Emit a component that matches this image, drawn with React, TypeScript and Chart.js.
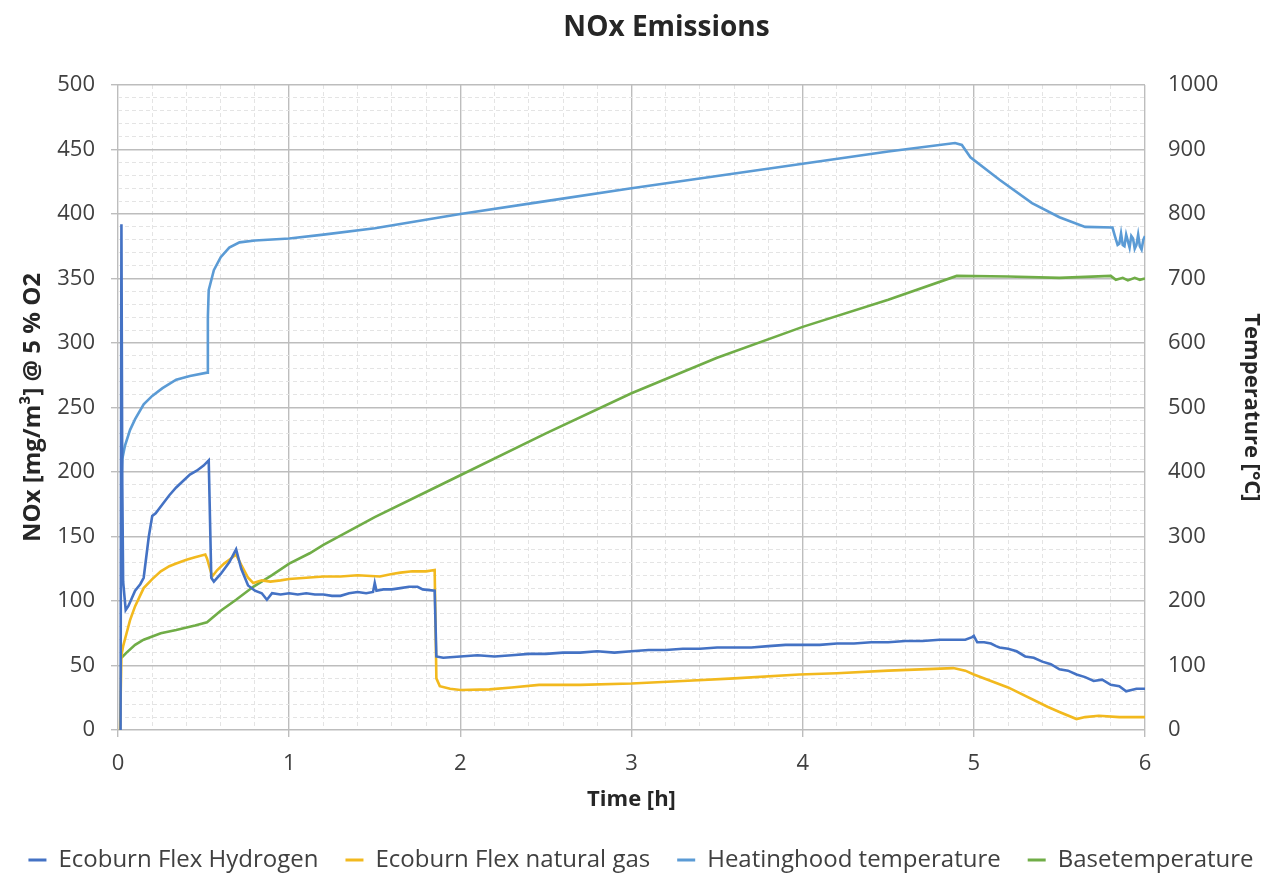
import React, { useEffect, useRef } from "react";
import { Chart, registerables } from "chart.js";

Chart.register(...registerables);

const chartTitle = "NOx Emissions";
const xAxisTitle = "Time [h]";
const yLeftTitle = "NOx [mg/m³] @ 5 % O2";
const yRightTitle = "Temperature [°C]";

const seriesNames = [
  "Ecoburn Flex Hydrogen",
  "Ecoburn Flex natural gas",
  "Heatinghood temperature",
  "Basetemperature",
];

// Ecoburn Flex Hydrogen (left axis, mg/m³)
const h2Time = [
  0.015, 0.02, 0.025, 0.03, 0.045, 0.06, 0.08, 0.1, 0.13, 0.15, 0.18, 0.2, 0.22, 0.26, 0.3, 0.34, 0.38, 0.42,
  0.46, 0.5, 0.53, 0.545, 0.56, 0.6, 0.65, 0.69, 0.72, 0.76, 0.8, 0.84, 0.87, 0.9, 0.95, 1.0, 1.05, 1.1, 1.15,
  1.2, 1.25, 1.3, 1.35, 1.4, 1.45, 1.49, 1.5, 1.51, 1.55, 1.6, 1.65, 1.7, 1.75, 1.78, 1.85, 1.86, 1.9, 2.0, 2.1,
  2.2, 2.3, 2.4, 2.5, 2.6, 2.7, 2.8, 2.9, 3.0, 3.1, 3.2, 3.3, 3.4, 3.5, 3.6, 3.7, 3.8, 3.9, 4.0, 4.1, 4.2, 4.3,
  4.4, 4.5, 4.6, 4.7, 4.8, 4.9, 4.95, 4.99, 5.0, 5.02, 5.06, 5.1, 5.13, 5.15, 5.2, 5.25, 5.3, 5.35, 5.4, 5.45,
  5.5, 5.55, 5.6, 5.65, 5.7, 5.75, 5.8, 5.85, 5.89, 5.95, 6.0,
];
const h2Values = [
  0, 392, 190, 115, 93, 96, 102, 108, 113, 118, 150, 166, 168, 175, 182, 188, 193, 198,
  201, 205, 209, 118, 115, 121, 130, 140, 125, 112, 108, 106, 101, 106, 105, 106, 105, 106, 105,
  105, 104, 104, 106, 107, 106, 107, 114, 108, 109, 109, 110, 111, 111, 109, 108, 57, 56, 57, 58,
  57, 58, 59, 59, 60, 60, 61, 60, 61, 62, 62, 63, 63, 64, 64, 64, 65, 66, 66, 66, 67, 67,
  68, 68, 69, 69, 70, 70, 70, 72, 73, 68, 68, 67, 65, 64, 63, 61, 57, 56, 53, 51,
  47, 46, 43, 41, 38, 39, 35, 34, 30, 32, 32,
];

// Ecoburn Flex natural gas (left axis, mg/m³)
const gasTime = [
  0.012, 0.02, 0.03, 0.05, 0.07, 0.1, 0.15, 0.2, 0.25, 0.3, 0.34, 0.4, 0.45, 0.51, 0.52, 0.55, 0.58, 0.62,
  0.66, 0.69, 0.72, 0.76, 0.79, 0.84, 0.89, 0.95, 1.0, 1.1, 1.2, 1.3, 1.4, 1.53, 1.6, 1.65, 1.72, 1.8, 1.85,
  1.86, 1.88, 1.94, 2.0, 2.17, 2.3, 2.46, 2.7, 3.0, 3.3, 3.6, 3.98, 4.2, 4.5, 4.88, 4.95, 5.0, 5.2, 5.43, 5.5,
  5.6, 5.65, 5.73, 5.85, 6.0,
];
const gasValues = [
  0, 58, 65, 75, 85, 96, 110, 117, 123, 127, 129, 132, 134, 136, 133, 119, 124, 129,
  133, 136, 128, 118, 114, 116, 115, 116, 117, 118, 119, 119, 120, 119, 121, 122, 123, 123, 124,
  40, 34, 32, 31, 31.5, 33, 35, 35, 36, 38, 40, 43, 44, 46, 48, 46, 43, 33, 18, 14,
  8.5, 10, 11, 10, 10,
];

// Heatinghood temperature (right axis, °C)
const hoodTime = [
  0.02, 0.025, 0.04, 0.07, 0.1, 0.15, 0.2, 0.26, 0.34, 0.42, 0.52, 0.525, 0.53, 0.56, 0.6, 0.65, 0.71, 0.8,
  1.0, 1.2, 1.5, 2.0, 2.5, 3.0, 3.5, 4.0, 4.5, 4.89, 4.93, 4.98, 5.15, 5.34, 5.5, 5.65, 5.81, 5.825, 5.84,
  5.85, 5.86, 5.87, 5.88, 5.89, 5.9, 5.91, 5.92, 5.93, 5.94, 5.95, 5.96, 5.97, 5.98, 5.99, 6.0,
];
const hoodValues = [
  390, 420, 440, 465, 482, 505, 518, 530, 543, 549, 554, 640, 682, 713, 733, 748, 756, 759,
  762, 768, 778, 800, 820, 840, 859, 878, 897, 910, 907, 888, 853, 817, 795, 780, 779, 765, 752,
  754, 770, 752, 750, 768, 758, 748, 766, 762, 746, 752, 768, 750, 745, 760, 766,
];

// Basetemperature (right axis, °C)
const baseTime = [
  0.02, 0.05, 0.1, 0.15, 0.25, 0.34, 0.45, 0.52, 0.6, 0.69, 0.79, 0.9, 1.0, 1.12, 1.2, 1.5, 1.8, 2.0, 2.5,
  3.0, 3.5, 4.0, 4.5, 4.9, 5.2, 5.5, 5.8, 5.83, 5.87, 5.9, 5.94, 5.97, 6.0,
];
const baseValues = [
  112, 120, 132, 140, 150, 155, 162, 167, 185, 202, 222, 240, 258, 274, 287, 330, 369, 395, 460,
  522, 577, 625, 667, 704, 703, 701, 704, 698, 701, 697, 701, 698, 700,
];

const seriesColors = ["#4472C4", "#F2B91E", "#5B9BD5", "#70AD47"];

const xMin = 0, xMax = 6, xStep = 0.2;
const yLeftMin = 0, yLeftMax = 500, yLeftStep = 10, yLeftLabelEvery = 50;
const yRightMin = 0, yRightMax = 1000, yRightStep = 20, yRightLabelEvery = 100;

const FONT = "'Open Sans'";

function pts(xs: number[], ys: number[]) {
  return xs.map((x, i) => ({ x, y: ys[i] }));
}

const isIntLike = (v: number) => Math.abs(v - Math.round(v)) < 1e-6;
const MAJOR = "#BDBDBD";
const MINOR = "#E4E4E4";

const titlePlugin = {
  id: "offsetTitle",
  afterDraw(chart: any) {
    const { ctx, chartArea } = chart;
    ctx.save();
    ctx.font = `bold 28px ${FONT}`;
    ctx.fillStyle = "#262626";
    ctx.textAlign = "center";
    ctx.textBaseline = "middle";
    ctx.fillText(chartTitle, (chartArea.left + chartArea.right) / 2 + 35, 28);
    ctx.restore();
  },
};

export default function App() {
  const ref = useRef<HTMLCanvasElement | null>(null);

  useEffect(() => {
    if (!ref.current) return;
    const chart = new Chart(ref.current, {
      type: "line",
      data: {
        datasets: [
          { label: seriesNames[0], data: pts(h2Time, h2Values), yAxisID: "y" },
          { label: seriesNames[1], data: pts(gasTime, gasValues), yAxisID: "y" },
          { label: seriesNames[2], data: pts(hoodTime, hoodValues), yAxisID: "y1" },
          { label: seriesNames[3], data: pts(baseTime, baseValues), yAxisID: "y1" },
        ].map((d, i) => ({
          ...d,
          borderColor: seriesColors[i],
          backgroundColor: seriesColors[i],
          borderWidth: 2.6,
          pointRadius: 0,
          tension: 0,
          fill: false,
        })),
      },
      plugins: [titlePlugin],
      options: {
        responsive: false,
        animation: false,
        events: [],
        layout: { padding: { left: 0, right: 0, top: 85, bottom: -5 } },
        plugins: {
          title: { display: false },
          legend: {
            display: true,
            position: "bottom",
            labels: {
              font: { family: FONT, size: 24 },
              color: "#404040",
              boxWidth: 18,
              boxHeight: 3,
              padding: 27,
              generateLabels: (c: any) => {
                const items = Chart.defaults.plugins.legend.labels.generateLabels(c);
                return items.map((it: any) => ({ ...it, lineWidth: 0, fillStyle: it.strokeStyle }));
              },
            },
          },
          tooltip: { enabled: false },
        },
        scales: {
          x: {
            type: "linear",
            min: xMin,
            max: xMax,
            afterFit: (s: any) => { s.height = 91; },
            ticks: {
              stepSize: xStep,
              autoSkip: false,
              maxRotation: 0,
              padding: 14,
              color: "#404040",
              font: { family: FONT, size: 22 },
              callback: (v: any) => (isIntLike(Number(v)) ? String(Math.round(Number(v))) : ""),
            },
            grid: {
              color: (c: any) => (isIntLike(c.tick.value) ? MAJOR : MINOR),
              lineWidth: (c: any) => (isIntLike(c.tick.value) ? 1.4 : 1),
              tickLength: 7,
              tickColor: (c: any) => (isIntLike(c.tick.value) ? MAJOR : "rgba(0,0,0,0)"),
            },
            border: {
              display: false,
              dash: (c: any) => (c.tick && isIntLike(c.tick.value) ? [] : [4, 3]),
            },
            title: {
              display: true,
              text: xAxisTitle,
              color: "#262626",
              font: { family: FONT, size: 22, weight: "bold" },
              padding: { top: 0, bottom: 7.8 },
            },
          },
          y: {
            type: "linear",
            position: "left",
            min: yLeftMin,
            max: yLeftMax,
            afterFit: (s: any) => { s.width = 118; },
            ticks: {
              stepSize: yLeftStep,
              autoSkip: false,
              padding: 16,
              color: "#404040",
              font: { family: FONT, size: 22 },
              callback: (v: any) => (Number(v) % yLeftLabelEvery === 0 ? String(v) : ""),
            },
            grid: {
              color: (c: any) => (c.tick.value % yLeftLabelEvery === 0 ? MAJOR : MINOR),
              lineWidth: (c: any) => (c.tick.value % yLeftLabelEvery === 0 ? 1.4 : 1),
              tickLength: 7,
              tickColor: (c: any) => (c.tick.value % yLeftLabelEvery === 0 ? MAJOR : "rgba(0,0,0,0)"),
            },
            border: {
              display: false,
              dash: (c: any) => (c.tick && c.tick.value % yLeftLabelEvery === 0 ? [] : [4, 3]),
            },
            title: {
              display: true,
              text: yLeftTitle,
              color: "#262626",
              font: { family: FONT, size: 24, weight: "bold" },
              padding: { top: 18.6, bottom: 0 },
            },
          },
          y1: {
            type: "linear",
            position: "right",
            min: yRightMin,
            max: yRightMax,
            afterFit: (s: any) => { s.width = 137; },
            ticks: {
              stepSize: yRightStep,
              autoSkip: false,
              padding: 15,
              color: "#404040",
              font: { family: FONT, size: 22 },
              callback: (v: any) => (Number(v) % yRightLabelEvery === 0 ? String(v) : ""),
            },
            grid: { display: false, drawOnChartArea: false },
            border: { display: false },
            title: {
              display: true,
              text: yRightTitle,
              color: "#262626",
              font: { family: FONT, size: 22, weight: "bold" },
              padding: { top: 17.8, bottom: 0 },
            },
          },
        },
      },
    } as any);
    return () => chart.destroy();
  }, []);

  return (
    <div style={{ position: "fixed", left: 0, top: 0, width: 1282, height: 877, background: "#fff" }}>
      <canvas ref={ref} width={1282} height={877} style={{ display: "block" }} />
    </div>
  );
}
